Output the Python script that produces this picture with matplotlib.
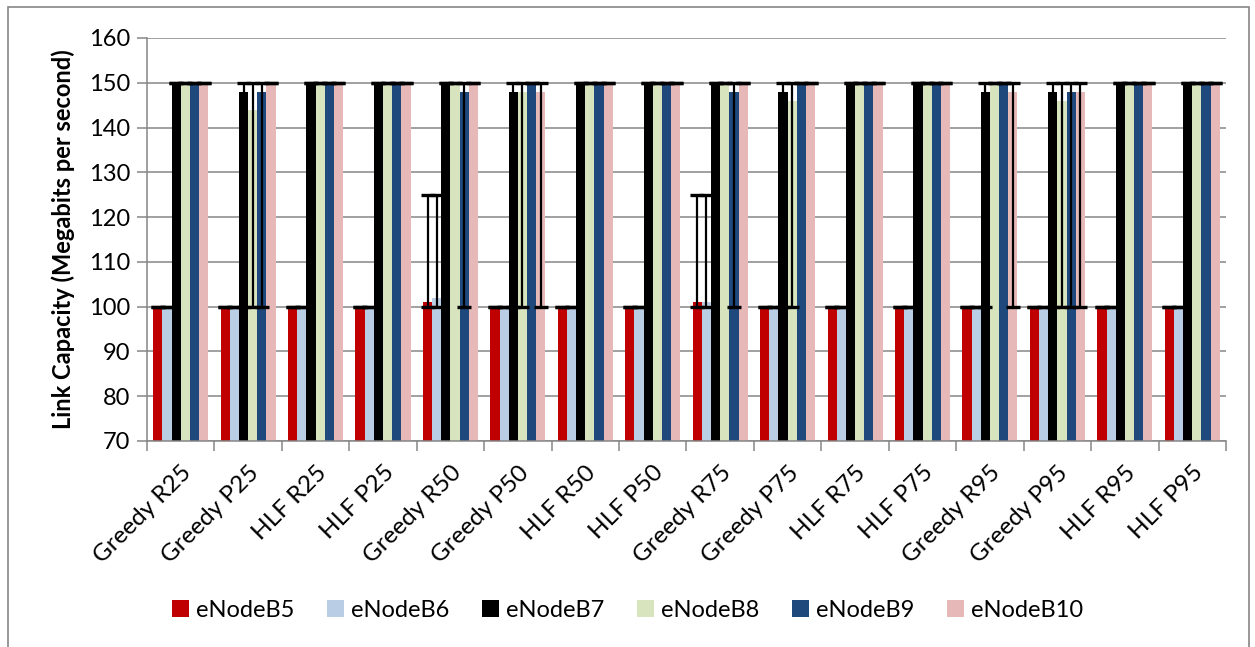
"""link capacity per eNodeB, grouped bars with min/max error bars"""
import numpy as np
import matplotlib
matplotlib.use("Agg")
import matplotlib.pyplot as plt
from matplotlib.patches import Rectangle

plt.rcParams["font.family"] = ["Lato", "DejaVu Sans"]

categories = ["Greedy R25", "Greedy P25", "HLF R25", "HLF P25",
              "Greedy R50", "Greedy P50", "HLF R50", "HLF P50",
              "Greedy R75", "Greedy P75", "HLF R75", "HLF P75",
              "Greedy R95", "Greedy P95", "HLF R95", "HLF P95"]
series_names = ["eNodeB5", "eNodeB6", "eNodeB7", "eNodeB8", "eNodeB9", "eNodeB10"]

# mean values per series
enb5 = [100, 100, 100, 100, 101, 100, 100, 100, 101, 100, 100, 100, 100, 100, 100, 100]
enb6 = [100, 100, 100, 100, 102, 100, 100, 100, 101, 100, 100, 100, 100, 100, 100, 100]
enb7 = [150, 148, 150, 150, 150, 148, 150, 150, 150, 148, 150, 150, 148, 148, 150, 150]
enb8 = [150, 144, 150, 150, 150, 148, 150, 150, 150, 146, 150, 150, 150, 146, 150, 150]
enb9 = [150, 148, 150, 150, 148, 150, 150, 150, 148, 150, 150, 150, 150, 148, 150, 150]
enb10 = [150, 150, 150, 150, 150, 148, 150, 150, 150, 150, 150, 150, 148, 148, 150, 150]

# min / max bounds shown by the error bars
enb5_lo = [100, 100, 100, 100, 100, 100, 100, 100, 100, 100, 100, 100, 100, 100, 100, 100]
enb5_hi = [100, 100, 100, 100, 125, 100, 100, 100, 125, 100, 100, 100, 100, 100, 100, 100]
enb6_lo = [100, 100, 100, 100, 100, 100, 100, 100, 100, 100, 100, 100, 100, 100, 100, 100]
enb6_hi = [100, 100, 100, 100, 125, 100, 100, 100, 125, 100, 100, 100, 100, 100, 100, 100]
enb7_lo = [150, 100, 150, 150, 150, 100, 150, 150, 150, 100, 150, 150, 100, 100, 150, 150]
enb7_hi = [150, 150, 150, 150, 150, 150, 150, 150, 150, 150, 150, 150, 150, 150, 150, 150]
enb8_lo = [150, 100, 150, 150, 150, 100, 150, 150, 150, 100, 150, 150, 150, 100, 150, 150]
enb8_hi = [150, 150, 150, 150, 150, 150, 150, 150, 150, 150, 150, 150, 150, 150, 150, 150]
enb9_lo = [150, 100, 150, 150, 100, 150, 150, 150, 100, 150, 150, 150, 150, 100, 150, 150]
enb9_hi = [150, 150, 150, 150, 150, 150, 150, 150, 150, 150, 150, 150, 150, 150, 150, 150]
enb10_lo = [150, 150, 150, 150, 150, 100, 150, 150, 150, 150, 150, 150, 100, 100, 150, 150]
enb10_hi = [150, 150, 150, 150, 150, 150, 150, 150, 150, 150, 150, 150, 150, 150, 150, 150]

values = [enb5, enb6, enb7, enb8, enb9, enb10]
lows = [enb5_lo, enb6_lo, enb7_lo, enb8_lo, enb9_lo, enb10_lo]
highs = [enb5_hi, enb6_hi, enb7_hi, enb8_hi, enb9_hi, enb10_hi]
colors = ["#C00000", "#B9CDE5", "#000000", "#D7E4BD", "#1F497D", "#E6B9B8"]

GRAY = "#868686"

fig = plt.figure(figsize=(12.55, 6.47), dpi=100)
ax = fig.add_axes([0.1171, 0.3184, 0.8598, 0.6229])

# outer chart border
fig.patches.append(Rectangle((8 / 1255, -0.02), 1241 / 1255, 1 - 7 / 647 + 0.02,
                             transform=fig.transFigure, fill=False,
                             edgecolor=GRAY, linewidth=1.2))

x = np.arange(len(categories))
width = 0.136
for i, (vals, lo, hi, col, name) in enumerate(zip(values, lows, highs, colors, series_names)):
    pos = x + (i - 2.5) * width
    v = np.array(vals, dtype=float)
    ax.bar(pos, v - 70, bottom=70, width=width, color=col, label=name, zorder=2)
    yerr = [v - np.array(lo), np.array(hi) - v]
    ax.errorbar(pos, v, yerr=yerr, fmt="none", ecolor="black", elinewidth=1.6,
                capsize=5.2, capthick=2.4, zorder=3)

ax.set_xlim(-0.5, len(categories) - 0.5)
ax.set_ylim(70, 160)
ax.set_yticks(np.arange(70, 161, 10))
ax.yaxis.grid(True, color=GRAY, linewidth=1.1, zorder=0)
ax.set_axisbelow(True)

for s in ["top", "right"]:
    ax.spines[s].set_visible(False)
for s in ["left", "bottom"]:
    ax.spines[s].set_color(GRAY)
    ax.spines[s].set_linewidth(1.1)

ax.tick_params(axis="y", colors=GRAY, length=7, width=1.1, labelsize=17,
               labelcolor="black", pad=5)
ax.set_xticks(np.arange(-0.5, len(categories), 1.0))
ax.set_xticklabels([])
ax.tick_params(axis="x", which="major", colors=GRAY, length=7, width=1.1)
ax.set_xticks(x, minor=True)
ax.set_xticklabels(categories, minor=True, rotation=45, ha="right",
                   rotation_mode="anchor", fontsize=17.5)
ax.tick_params(axis="x", which="minor", length=0, pad=15, labelcolor="black")

ax.set_ylabel("Link Capacity (Megabits per second)", fontsize=17, fontweight="bold",
              labelpad=10)

fig.legend(loc="center", bbox_to_anchor=(0.5, 0.057), ncol=6, frameon=False,
           fontsize=17, handlelength=0.7, handleheight=0.7, handletextpad=0.3,
           columnspacing=1.4)

fig.savefig("out.png", dpi=100)
